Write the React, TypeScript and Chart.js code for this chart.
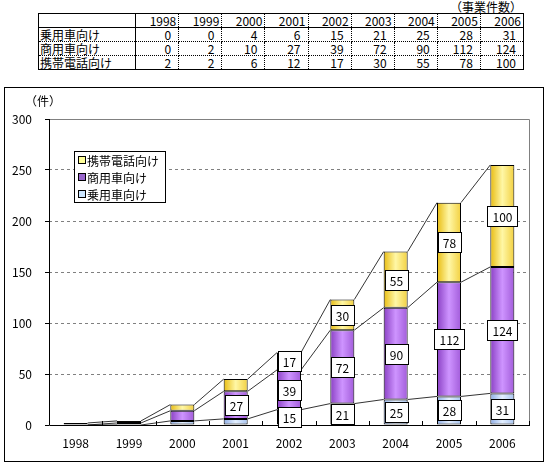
import { useEffect, useRef } from 'react';
import { Chart, registerables } from 'chart.js';

Chart.register(...registerables);

// ---- data ----
const years = ['1998', '1999', '2000', '2001', '2002', '2003', '2004', '2005', '2006'];
const passengerCar = [0, 0, 4, 6, 15, 21, 25, 28, 31];
const commercialCar = [0, 2, 10, 27, 39, 72, 90, 112, 124];
const mobilePhone = [2, 2, 6, 12, 17, 30, 55, 78, 100];
const seriesNames = ['乗用車向け', '商用車向け', '携帯電話向け'];
const yTicks = [0, 50, 100, 150, 200, 250, 300];
const unitLabel = '（件）';
const tableUnit = '（事業件数）';
const labelThreshold = 15;

const FONT = '"MS PGothic", "Noto Sans CJK JP", sans-serif';
const BAR_PCT = 0.45;

// horizontal gradient stops per series: edge, centre, edge
const gradients = [
  ['#8FAEE6', '#E4F0FF', '#A8C4F0'],
  ['#8A40C4', '#CE94FF', '#A25CDA'],
  ['#E8BC10', '#FFF7A6', '#F2D040'],
];
const legendSwatch = ['#CCE6FF', '#9966CC', '#FFFF99'];

function barFill(stops: string[]) {
  return (c: any) => {
    const chart = c.chart;
    const area = chart.chartArea;
    if (!area || c.type !== 'data') return stops[1];
    const cx = chart.scales.x.getPixelForValue(c.dataIndex);
    const w = (area.width / years.length) * BAR_PCT;
    const g = chart.ctx.createLinearGradient(cx - w / 2, 0, cx + w / 2, 0);
    g.addColorStop(0, stops[0]);
    g.addColorStop(0.5, stops[1]);
    g.addColorStop(1, stops[2]);
    return g;
  };
}

// frame, series lines, value boxes, legend and unit caption
const decorations = {
  id: 'decorations',
  beforeDatasetsDraw(chart: any) {
    const { ctx, chartArea: a } = chart;
    ctx.save();
    ctx.strokeStyle = '#808080';
    ctx.lineWidth = 1;
    ctx.beginPath();
    ctx.moveTo(a.left, a.top + 0.5);
    ctx.lineTo(a.right + 0.5, a.top + 0.5);
    ctx.lineTo(a.right + 0.5, a.bottom);
    ctx.stroke();
    ctx.restore();
  },
  afterDatasetsDraw(chart: any) {
    const { ctx, chartArea: a } = chart;
    ctx.save();

    // axes
    ctx.strokeStyle = '#000';
    ctx.lineWidth = 1;
    ctx.beginPath();
    ctx.moveTo(a.left + 0.5, a.top);
    ctx.lineTo(a.left + 0.5, a.bottom + 0.5);
    ctx.lineTo(a.right + 1, a.bottom + 0.5);
    ctx.stroke();

    // small inward tick marks between categories
    const catW = a.width / years.length;
    ctx.beginPath();
    for (let i = 0; i <= years.length; i++) {
      const x = Math.round(a.left + i * catW) + 0.5;
      ctx.moveTo(x, a.bottom);
      ctx.lineTo(x, a.bottom - 4);
    }
    ctx.stroke();

    // series lines joining the tops of each stacked segment
    ctx.lineWidth = 0.8;
    ctx.beginPath();
    chart.data.datasets.forEach((_: any, di: number) => {
      const els = chart.getDatasetMeta(di).data;
      for (let i = 0; i < els.length - 1; i++) {
        const e0 = els[i];
        const e1 = els[i + 1];
        ctx.moveTo(e0.x + e0.width / 2, e0.y);
        ctx.lineTo(e1.x - e1.width / 2, e1.y);
      }
    });
    ctx.stroke();

    // value boxes
    ctx.font = `12px ${FONT}`;
    ctx.textAlign = 'center';
    ctx.textBaseline = 'middle';
    ctx.lineWidth = 1;
    chart.data.datasets.forEach((ds: any, di: number) => {
      const els = chart.getDatasetMeta(di).data;
      ds.data.forEach((v: number, i: number) => {
        if (v < labelThreshold) return;
        const el = els[i];
        const t = String(v);
        const bw = Math.round(ctx.measureText(t).width + 10);
        const bh = 20;
        const cx = Math.round(el.x);
        const cy = Math.round((el.y + el.base) / 2);
        const x0 = Math.round(cx - bw / 2);
        const y0 = Math.round(cy - bh / 2);
        ctx.fillStyle = '#fff';
        ctx.fillRect(x0, y0, bw, bh);
        ctx.strokeStyle = '#000';
        ctx.strokeRect(x0 + 0.5, y0 + 0.5, bw, bh);
        ctx.fillStyle = '#000';
        ctx.fillText(t, cx + 0.5, cy + 1);
      });
    });

    // legend (top series first)
    const lx = a.left + 25;
    const ly = a.top + 32;
    const lw = 91;
    const lh = 51;
    ctx.fillStyle = '#fff';
    ctx.fillRect(lx, ly, lw, lh);
    ctx.strokeStyle = '#000';
    ctx.strokeRect(lx + 0.5, ly + 0.5, lw, lh);
    ctx.textAlign = 'left';
    const n = chart.data.datasets.length;
    for (let k = 0; k < n; k++) {
      const di = n - 1 - k;
      const cy = ly + 9 + k * 17;
      ctx.fillStyle = legendSwatch[di];
      ctx.fillRect(lx + 4, cy - 4, 7, 7);
      ctx.strokeStyle = '#000';
      ctx.strokeRect(lx + 4.5, cy - 3.5, 7, 7);
      ctx.fillStyle = '#000';
      ctx.fillText(chart.data.datasets[di].label, lx + 13, cy + 1);
    }

    // unit caption
    ctx.fillText(unitLabel, 20, 13);
    ctx.restore();
  },
};

function DataTable() {
  const rows = [passengerCar, commercialCar, mobilePhone];
  const cellBase: any = {
    padding: '0 2px',
    textAlign: 'right',
    borderRight: '1px dotted #000',
    borderBottom: '1px dotted #000',
    width: 38,
    whiteSpace: 'nowrap',
  };
  return (
    <div style={{ position: 'absolute', left: 38, top: 0, width: 486, fontFamily: FONT, fontSize: 12, color: '#000' }}>
      <div style={{ textAlign: 'right', height: 13, lineHeight: '13px', paddingRight: 2 }}>{tableUnit}</div>
      <table
        style={{
          borderCollapse: 'collapse',
          border: '1px solid #000',
          width: 486,
          tableLayout: 'fixed',
          fontSize: 12,
          lineHeight: '13px',
        }}
      >
        <colgroup>
          <col style={{ width: 97 }} />
          {years.map((y) => (
            <col key={y} style={{ width: 43 }} />
          ))}
        </colgroup>
        <tbody>
          <tr style={{ height: 14 }}>
            <td style={{ borderRight: '1px solid #000', borderBottom: '1px solid #000' }} />
            {years.map((y) => (
              <td key={y} style={{ ...cellBase, borderBottom: '1px solid #000' }}>
                {y}
              </td>
            ))}
          </tr>
          {rows.map((r, ri) => (
            <tr key={ri} style={{ height: 14 }}>
              <td
                style={{
                  borderRight: '1px solid #000',
                  borderBottom: '1px dotted #000',
                  padding: '0 1px',
                  whiteSpace: 'nowrap',
                }}
              >
                {seriesNames[ri]}
              </td>
              {r.map((v, i) => (
                <td key={i} style={{ ...cellBase, paddingRight: 7 }}>
                  {v}
                </td>
              ))}
            </tr>
          ))}
        </tbody>
      </table>
    </div>
  );
}

export default function App() {
  const ref = useRef<HTMLCanvasElement | null>(null);

  useEffect(() => {
    if (!ref.current) return;
    Chart.defaults.color = '#000';
    const chart = new Chart(ref.current, {
      type: 'bar',
      data: {
        labels: years,
        datasets: [passengerCar, commercialCar, mobilePhone].map((d, i) => ({
          label: seriesNames[i],
          data: d,
          backgroundColor: barFill(gradients[i]),
          borderColor: '#000',
          borderWidth: 1,
          borderSkipped: false,
          barPercentage: BAR_PCT,
          categoryPercentage: 1,
        })),
      },
      options: {
        responsive: false,
        animation: false,
        events: [],
        layout: { padding: { top: 31, right: 14, left: 0, bottom: 0 } },
        plugins: { legend: { display: false }, tooltip: { enabled: false } },
        scales: {
          x: {
            stacked: true,
            grid: { display: false, drawTicks: false },
            border: { display: false },
            ticks: { font: { family: FONT, size: 12 }, color: '#000', padding: 11, maxRotation: 0 },
            afterFit: (s: any) => {
              s.height = 36;
            },
          },
          y: {
            stacked: true,
            min: 0,
            max: 300,
            afterBuildTicks: (s: any) => {
              s.ticks = yTicks.map((v) => ({ value: v }));
            },
            grid: {
              color: (c: any) => (c.tick && (c.tick.value === 300 || c.tick.value === 0) ? 'rgba(0,0,0,0)' : '#808080'),
              tickColor: '#000',
              tickLength: 4,
              lineWidth: 1,
            },
            border: { display: false, dash: [3, 3] },
            ticks: { font: { family: FONT, size: 12 }, color: '#000', padding: 13 },
            afterFit: (s: any) => {
              s.width = 44;
            },
          },
        },
      },
      plugins: [decorations],
    });
    return () => chart.destroy();
  }, []);

  return (
    <div style={{ position: 'absolute', left: 0, top: 0, width: 551, height: 466, background: '#fff' }}>
      <DataTable />
      <div
        style={{
          position: 'absolute',
          left: 4,
          top: 87,
          width: 540,
          height: 375,
          border: '1px solid #000',
          boxSizing: 'border-box',
        }}
      >
        <canvas ref={ref} width={538} height={373} style={{ display: 'block', width: 538, height: 373 }} />
      </div>
    </div>
  );
}
